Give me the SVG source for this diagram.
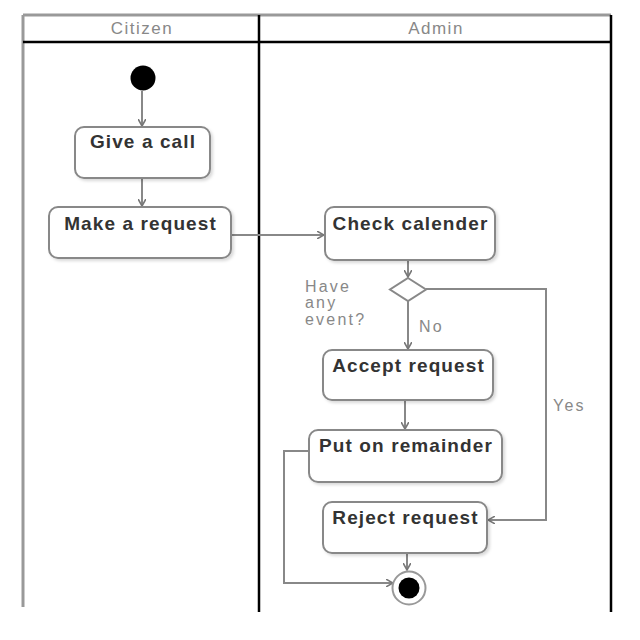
<svg xmlns="http://www.w3.org/2000/svg" width="640" height="640" viewBox="0 0 640 640">
<style>
.lane{stroke:#000;stroke-width:2.5;fill:none}
.laneg{stroke:#999;stroke-width:3;fill:none}
.hdr{font-family:"Liberation Sans",Arial,sans-serif;font-size:17px;letter-spacing:1.5px;fill:#888;text-anchor:middle}
.node rect{fill:#fff;stroke:#888;stroke-width:2;filter:url(#sh)}
.node text{font-family:"Liberation Sans",Arial,sans-serif;font-weight:bold;font-size:19px;letter-spacing:1.1px;fill:#333;text-anchor:middle}
.conn{stroke:#888;stroke-width:2;fill:none;marker-end:url(#arr)}
.lbl{font-family:"Liberation Sans",Arial,sans-serif;font-size:16px;letter-spacing:2.2px;fill:#888}
</style>
<defs>
<marker id="arr" viewBox="0 0 10 10" refX="9" refY="5" markerWidth="8" markerHeight="8" markerUnits="userSpaceOnUse" orient="auto">
<path d="M0,0 L9,5 L0,10" fill="none" stroke="#777" stroke-width="2"/>
</marker>
<filter id="sh" x="-10%" y="-10%" width="130%" height="140%">
<feDropShadow dx="2" dy="2" stdDeviation="1.5" flood-color="#000" flood-opacity="0.15"/>
</filter>
</defs>
<rect width="640" height="640" fill="#fff"/>
<g id="swimlanes">
<line class="laneg" x1="23" y1="15" x2="611" y2="15"/>
<line class="laneg" x1="23" y1="15" x2="23" y2="607"/>
<line class="lane" x1="23" y1="42" x2="611" y2="42"/>
<line class="lane" x1="259" y1="15" x2="259" y2="612"/>
<line class="lane" x1="611" y1="15" x2="611" y2="612"/>
<text class="hdr" x="142" y="34">Citizen</text>
<text class="hdr" x="436" y="34">Admin</text>
</g>
<g id="connectors">
<line class="conn" x1="142" y1="91" x2="142" y2="126"/>
<line class="conn" x1="142" y1="178" x2="142" y2="206"/>
<line class="conn" x1="231" y1="235" x2="324" y2="235"/>
<line class="conn" x1="408" y1="261" x2="408" y2="277"/>
<line class="conn" x1="408" y1="301" x2="408" y2="349"/>
<line class="conn" x1="405" y1="401" x2="405" y2="429"/>
<polyline class="conn" points="426,289 546,289 546,520 488,520"/>
<polyline class="conn" points="309,451 284,451 284,583 393,583"/>
<line class="conn" x1="407" y1="554" x2="407" y2="570"/>
<text class="lbl" x="305" y="292">Have</text>
<text class="lbl" x="305" y="308">any</text>
<text class="lbl" x="305" y="325">event?</text>
<text class="lbl" x="419" y="332">No</text>
<text class="lbl" x="553" y="411">Yes</text>
</g>
<g id="start"><circle cx="143" cy="78" r="12.5" fill="#000"/></g>
<g id="give-call" class="node"><rect x="75" y="127" width="135" height="51" rx="9"/><text x="143" y="148">Give a call</text></g>
<g id="make-request" class="node"><rect x="49" y="207" width="182" height="51" rx="9"/><text x="140.5" y="230">Make a request</text></g>
<g id="check-calender" class="node"><rect x="325" y="207" width="170" height="53" rx="9"/><text x="410.5" y="230">Check calender</text></g>
<g id="decision"><polygon points="408,278 426,289.5 408,301 390,289.5" fill="#fff" stroke="#888" stroke-width="2"/></g>
<g id="accept-request" class="node"><rect x="323" y="350" width="170" height="50" rx="9"/><text x="408.5" y="372">Accept request</text></g>
<g id="put-remainder" class="node"><rect x="309" y="430" width="193" height="52" rx="9"/><text x="406" y="452">Put on remainder</text></g>
<g id="reject-request" class="node"><rect x="323" y="502" width="164" height="51" rx="9"/><text x="405.5" y="524">Reject request</text></g>
<g id="end"><circle cx="409" cy="588" r="16.5" fill="#fff" stroke="#999" stroke-width="2"/><circle cx="409" cy="588" r="10.5" fill="#000"/></g>
</svg>
